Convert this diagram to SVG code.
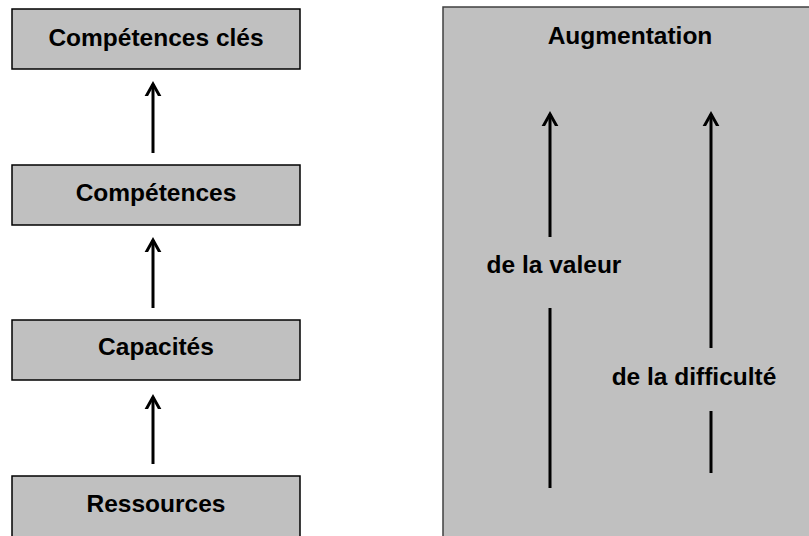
<svg xmlns="http://www.w3.org/2000/svg" width="809" height="536" viewBox="0 0 809 536">
<style>
.box{fill:#c0c0c0;stroke:#000;stroke-width:1.5}
.big{fill:#c0c0c0;stroke:#404040;stroke-width:1.5}
.t{font-family:"Liberation Sans",Arial,sans-serif;font-weight:bold;font-size:24.5px;fill:#000;text-anchor:middle}
.ln{stroke:#000;stroke-width:3;fill:none}
</style>
<defs>
<marker id="ah" viewBox="-12 -12 24 24" markerWidth="24" markerHeight="24" refX="0" refY="0" orient="auto" markerUnits="userSpaceOnUse">
<path d="M-18,-10 L0,0 L-18,10" fill="none" stroke="#000" stroke-width="3"/>
</marker>
</defs>
<rect width="809" height="536" fill="#fff"/>
<g id="panel">
<rect class="big" x="443" y="7" width="380" height="545"/>
<text class="t" x="630" y="44">Augmentation</text>
</g>
<g id="n1"><rect class="box" x="12" y="9" width="288" height="60"/><text class="t" x="156" y="46">Compétences clés</text></g>
<g id="n2"><rect class="box" x="12" y="165" width="288" height="60"/><text class="t" x="156" y="201">Compétences</text></g>
<g id="n3"><rect class="box" x="12" y="320" width="288" height="60"/><text class="t" x="156" y="355">Capacités</text></g>
<g id="n4"><rect class="box" x="12" y="476" width="288" height="70"/><text class="t" x="156" y="512">Ressources</text></g>
<g id="labels">
<text class="t" x="554" y="273">de la valeur</text>
<text class="t" x="694" y="385">de la difficulté</text>
</g>
<g id="connectors">
<line class="ln" x1="153" y1="153" x2="153" y2="84" marker-end="url(#ah)"/>
<line class="ln" x1="153" y1="308" x2="153" y2="240" marker-end="url(#ah)"/>
<line class="ln" x1="153" y1="464" x2="153" y2="397" marker-end="url(#ah)"/>
<line class="ln" x1="550" y1="237" x2="550" y2="114" marker-end="url(#ah)"/>
<line class="ln" x1="550" y1="488" x2="550" y2="308"/>
<line class="ln" x1="711" y1="348" x2="711" y2="114" marker-end="url(#ah)"/>
<line class="ln" x1="711" y1="473" x2="711" y2="411"/>
</g>
</svg>
